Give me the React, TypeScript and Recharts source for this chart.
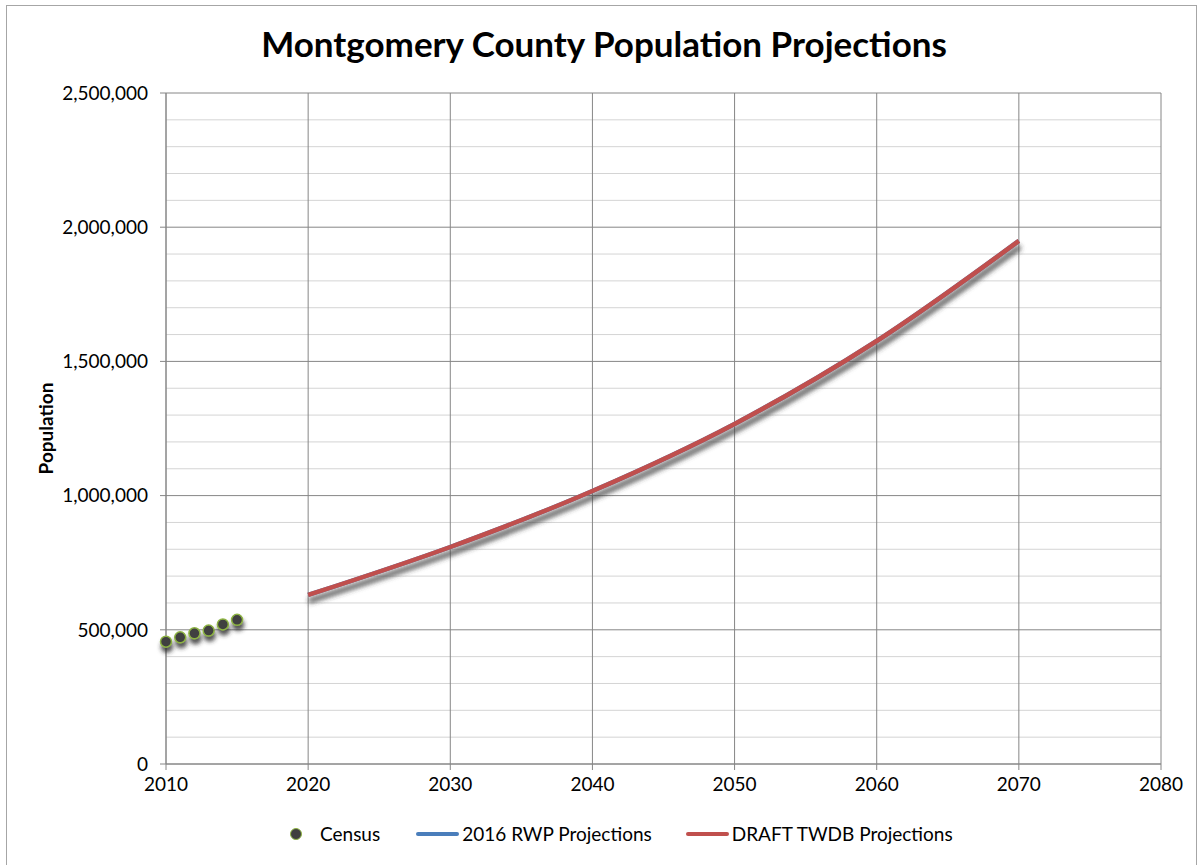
import React from 'react';
import {
  ComposedChart,
  Line,
  Scatter,
  XAxis,
  YAxis,
  CartesianGrid,
  Legend,
} from 'recharts';

// census estimates
const censusYears = [2010, 2011, 2012, 2013, 2014, 2015];
const censusPop = [455746, 472000, 487000, 497000, 520000, 537000];

// decade projections, both series sit on top of each other
const projYears = [2020, 2030, 2040, 2050, 2060, 2070];
const rwpPop = [629700, 808500, 1017000, 1267000, 1576000, 1949000];
const twdbPop = [629700, 808500, 1017000, 1267000, 1576000, 1949000];

const xTicks = [2010, 2020, 2030, 2040, 2050, 2060, 2070, 2080];
const yTicks = [0, 500000, 1000000, 1500000, 2000000, 2500000];
const yMinor = [
  100000, 200000, 300000, 400000, 600000, 700000, 800000, 900000, 1100000, 1200000,
  1300000, 1400000, 1600000, 1700000, 1800000, 1900000, 2100000, 2200000, 2300000, 2400000,
];

const census = censusYears.map((year, i) => ({ year, pop: censusPop[i] }));
const rwp = projYears.map((year, i) => ({ year, pop: rwpPop[i] }));
const twdb = projYears.map((year, i) => ({ year, pop: twdbPop[i] }));

const FONT = 'Lato, "Open Sans", sans-serif';
const GRID = '#868686';
const BLUE = '#4a7ebb';
const RED = '#c0504d';

const CensusDot = (props: any) => {
  const { cx, cy } = props;
  if (cx == null || cy == null) return null;
  return <circle cx={cx} cy={cy} r={5.5} fill="#3f3f3f" stroke="#8db343" strokeWidth={1.5} filter="url(#dotshade)" />;
};

const renderLegend = () => (
  <div
    style={{
      display: 'flex',
      alignItems: 'center',
      fontFamily: FONT,
      fontSize: 19,
      color: '#000',
      paddingLeft: 290,
      whiteSpace: 'nowrap',
    }}
  >
    <span style={{ width: 10, height: 10, borderRadius: '50%', background: '#3f3f3f', border: '1.5px solid #8db343' }} />
    <span style={{ marginLeft: 18 }}>Census</span>
    <span style={{ marginLeft: 36, width: 43, height: 4, borderRadius: 2, background: BLUE }} />
    <span style={{ marginLeft: 3 }}>2016 RWP Projections</span>
    <span style={{ marginLeft: 34, width: 43, height: 4, borderRadius: 2, background: RED }} />
    <span style={{ marginLeft: 3 }}>DRAFT TWDB Projections</span>
  </div>
);

export default function App() {
  return (
    <div style={{ position: 'absolute', left: 0, top: 0, width: 1198, height: 865, background: '#fff', overflow: 'hidden' }}>
      <div
        style={{
          position: 'absolute',
          left: 6,
          top: 5,
          width: 1189,
          height: 880,
          border: '1px solid #a6a6a6',
        }}
      />
      <div
        style={{
          position: 'absolute',
          left: 0,
          top: 22,
          width: 1208,
          textAlign: 'center',
          fontFamily: FONT,
          fontWeight: 'bold',
          fontSize: 35,
        }}
      >
        Montgomery County Population Projections
      </div>
      <ComposedChart
        width={1198}
        height={865}
        margin={{ top: 93, right: 37, bottom: 0, left: 0 }}
        style={{ position: 'absolute', left: 0, top: 0, fontFamily: FONT }}
      >
        <defs>
          <filter id="shade" x="-10%" y="-20%" width="120%" height="150%">
            <feDropShadow dx="1" dy="6" stdDeviation="2.5" floodColor="#444" floodOpacity="0.6" />
          </filter>
          <filter id="dotshade" x="-150%" y="-150%" width="400%" height="400%">
            <feDropShadow dx="1" dy="5" stdDeviation="2" floodColor="#2a2a2a" floodOpacity="0.8" />
          </filter>
        </defs>
        <CartesianGrid horizontalValues={yMinor} vertical={false} stroke="#d4d4d4" strokeWidth={1} />
        <CartesianGrid stroke={GRID} strokeWidth={1} />
        <XAxis
          dataKey="year"
          type="number"
          domain={[2010, 2080]}
          ticks={xTicks}
          allowDuplicatedCategory={false}
          height={101}
          tickSize={6}
          tickMargin={8}
          axisLine={{ stroke: GRID }}
          tickLine={{ stroke: GRID }}
          tick={{ fill: '#000', fontSize: 19 }}
        />
        <YAxis
          type="number"
          domain={[0, 2500000]}
          ticks={yTicks}
          width={166}
          tickSize={6}
          tickMargin={12}
          axisLine={{ stroke: GRID }}
          tickLine={{ stroke: GRID }}
          tick={{ fill: '#000', fontSize: 19 }}
          tickFormatter={(v: number) => v.toLocaleString('en-US')}
          label={{
            value: 'Population',
            angle: -90,
            position: 'insideLeft',
            offset: 46,
            style: { textAnchor: 'middle', fontWeight: 'bold', fontSize: 19, fill: '#000' },
          }}
        />
        <Line
          data={rwp}
          dataKey="pop"
          name="2016 RWP Projections"
          type="monotone"
          stroke={BLUE}
          strokeWidth={4.5}
          dot={false}
          filter="url(#shade)"
          isAnimationActive={false}
        />
        <Line
          data={twdb}
          dataKey="pop"
          name="DRAFT TWDB Projections"
          type="monotone"
          stroke={RED}
          strokeWidth={4.5}
          dot={false}
          filter="url(#shade)"
          isAnimationActive={false}
        />
        <Scatter data={census} dataKey="pop" name="Census" shape={<CensusDot />} isAnimationActive={false} />
        <Legend
          verticalAlign="middle"
          layout="horizontal"
          content={renderLegend}
          wrapperStyle={{ top: 822, left: 0, width: 1198, height: 24 }}
        />
      </ComposedChart>
    </div>
  );
}
